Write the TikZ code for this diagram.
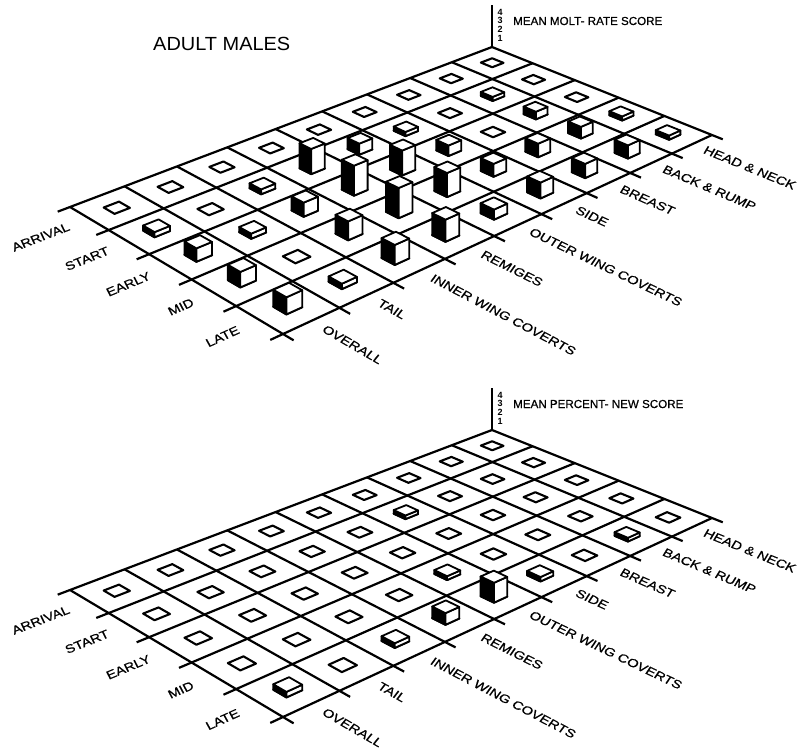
\documentclass[tikz,border=0pt]{standalone}
\usepackage{fontspec}
\setmainfont{Liberation Sans}
\newfontfamily\titlefont[FakeStretch=1.05]{Liberation Sans}
\newfontfamily\scorefont[FakeBold=0.6]{Liberation Sans}
\newfontfamily\rowfont[FakeStretch=1.2,FakeSlant=-0.08,FakeBold=0.8]{Liberation Sans}
\newfontfamily\colfont[FakeStretch=1.2,FakeSlant=0.15,FakeBold=0.8]{Liberation Sans}

\begin{document}
\begin{tikzpicture}[
        x=1pt, y=-1pt,
        line join=round,
        declare function={
            pd(\p,\q)=1-0.11279*\p/5+0.18812*\q/9;
            px(\p,\q)=(181.08*\p/5+514.56*\q/9+70)/pd(\p,\q);
            py(\p,\q,\z)=(89.33*\p/5-151.16*\q/9+207-11*\z)/pd(\p,\q);
        },
        gridline/.style={line width=2.2pt},
        flatbox/.style={draw, line width=2.1pt},
        sideface/.style={draw, line width=1.8pt, fill=black},
        lightface/.style={draw, line width=1.8pt, fill=white},
        rowlabel/.style={font=\rowfont\fontsize{12}{12}\selectfont, sloped, anchor=east, inner sep=0pt},
        collabel/.style={font=\colfont\fontsize{12}{12}\selectfont, sloped, anchor=west, inner sep=0pt},
        scorelabel/.style={font=\scorefont\fontsize{11.6}{12}\selectfont, anchor=base west, inner sep=0pt},
        axisnum/.style={font=\bfseries\fontsize{9}{9}\selectfont, inner sep=0pt}
    ]
    \useasboundingbox (0,0) rectangle (799,752);

    % Title
    \node[font=\titlefont\fontsize{19}{20}\selectfont, anchor=base west, inner sep=0pt] (title) at (153,50) {ADULT MALES};

    % Two panels: molt-rate (top), percent-new (bottom)
    \foreach \yo/\score/\bars in {
        0/{MEAN MOLT- RATE SCORE}/{1/7/.4, 1/5/.4, 1/4/1.06, 1/3/2.36, 1/2/.45, 1/0/.45,
            2/7/.75, 2/5/1.0, 2/4/2.33, 2/3/2.75, 2/2/1.27, 2/1/.45, 2/0/1.15,
            3/8/.4, 3/7/1.13, 3/6/1.29, 3/5/1.2, 3/4/2.2, 3/3/2.71, 3/2/1.66, 3/0/1.3,
            4/8/.4, 4/7/1.25, 4/6/1.32, 4/5/1.45, 4/4/.9, 4/3/1.94, 4/2/1.71, 4/1/.45, 4/0/1.4},
        383/{MEAN PERCENT- NEW SCORE}/{1/5/.35, 3/4/.35, 4/7/.35, 4/5/.4, 4/4/1.78, 4/3/1.02, 4/2/.4, 4/0/.45}}{
    \begin{scope}[yshift=-\yo*1pt]
        % Grid with ticks
        \foreach \i in {0,...,5}
            \draw[gridline] ({px(\i,-.22)},{py(\i,-.22,0)}) -- ({px(\i,9)},{py(\i,9,0)});
        \foreach \j in {0,...,9}
            \draw[gridline] ({px(0,\j)},{py(0,\j,0)}) -- ({px(5.22,\j)},{py(5.22,\j,0)});

        % Score axis
        \coordinate (back) at ({px(0,9)},{py(0,9,0)});
        \draw[line width=1.6pt] (back) -- ++(0,-42);
        \foreach \k/\yy in {4/12.5,3/20.5,2/29,1/38.5}
            \node[axisnum] (num\k) at (500,\yy) {\k};
        \node[scorelabel] (score) at (513,25) {\score};

        % Row labels
        \foreach \i/\name in {0/ARRIVAL,1/START,2/EARLY,3/MID,4/LATE}
            \path ({px(\i+.5,-.35)},{py(\i+.5,-.35,0)}) -- ({px(\i+.5,1)},{py(\i+.5,1,0)})
                node[rowlabel, pos=0] (row\i) {\name};

        % Column labels
        \foreach \j/\name in {0/OVERALL,1/TAIL,2/INNER WING COVERTS,3/REMIGES,4/OUTER WING COVERTS,
                5/SIDE,6/BREAST,7/BACK \& RUMP,8/HEAD \& NECK}
            \path ({px(4,\j+.5)},{py(4,\j+.5,0)}) -- ({px(5.24,\j+.5)},{py(5.24,\j+.5,0)})
                node[collabel, pos=1] (col\j) {\name};

        % Empty cells
        \foreach \i in {0,...,4}
            \foreach \j in {0,...,8}
                \draw[flatbox] ({px(\i+.36,\j+.36)},{py(\i+.36,\j+.36,0)})
                    -- ({px(\i+.64,\j+.36)},{py(\i+.64,\j+.36,0)})
                    -- ({px(\i+.64,\j+.64)},{py(\i+.64,\j+.64,0)})
                    -- ({px(\i+.36,\j+.64)},{py(\i+.36,\j+.64,0)}) -- cycle;

        % Bars, back to front
        \foreach \i/\j/\h in \bars {
            \coordinate (a0) at ({px(\i+.36,\j+.36)},{py(\i+.36,\j+.36,0)});
            \coordinate (b0) at ({px(\i+.64,\j+.36)},{py(\i+.64,\j+.36,0)});
            \coordinate (c0) at ({px(\i+.64,\j+.64)},{py(\i+.64,\j+.64,0)});
            \coordinate (a1) at ({px(\i+.36,\j+.36)},{py(\i+.36,\j+.36,\h)});
            \coordinate (b1) at ({px(\i+.64,\j+.36)},{py(\i+.64,\j+.36,\h)});
            \coordinate (c1) at ({px(\i+.64,\j+.64)},{py(\i+.64,\j+.64,\h)});
            \coordinate (d1) at ({px(\i+.36,\j+.64)},{py(\i+.36,\j+.64,\h)});
            \filldraw[sideface] (a0) -- (b0) -- (b1) -- (a1) -- cycle;
            \filldraw[lightface] (b0) -- (c0) -- (c1) -- (b1) -- cycle;
            \filldraw[lightface] (a1) -- (b1) -- (c1) -- (d1) -- cycle;
        }
    \end{scope}}
\end{tikzpicture}
\end{document}
